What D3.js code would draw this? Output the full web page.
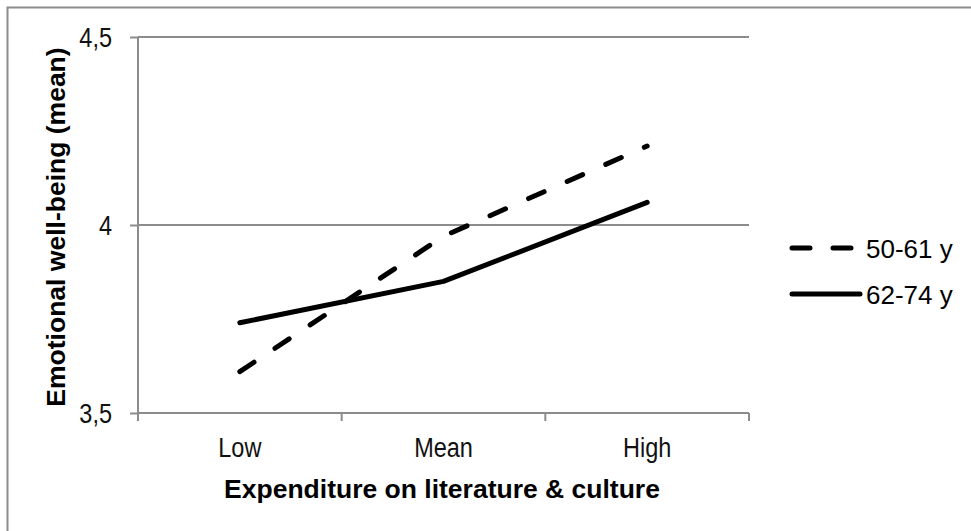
<!DOCTYPE html>
<html>
<head>
<meta charset="utf-8">
<script src="https://cdn.jsdelivr.net/npm/d3@7"></script>
<style>
  body { margin: 0; background: #fff; }
  svg { display: block; }
  .tick-label { font-family: "Liberation Sans", Arial, sans-serif; font-size: 27px; fill: #111; }
  .axis-title { font-family: "Liberation Sans", Arial, sans-serif; font-size: 26.5px; font-weight: bold; fill: #000; }
  .legend-label { font-family: "Liberation Sans", Arial, sans-serif; font-size: 26px; fill: #000; }
</style>
</head>
<body>
<div id="chart"></div>
<script>
const categories = ["Low", "Mean", "High"];
const yTicks = [3.5, 4, 4.5];
const seriesNames = ["50-61 y", "62-74 y"];
const values5061 = [3.61, 3.97, 4.21];
const values6274 = [3.74, 3.85, 4.06];

const W = 971, H = 531;
var margin = { top: 37, right: 222, bottom: 118, left: 138 };
var width = W - margin.left - margin.right;
var height = H - margin.top - margin.bottom;
var narrow = 0.87; // squeeze tick labels to look like a narrow face

var svg = d3.select("#chart").append("svg")
  .attr("width", W)
  .attr("height", H);

// outer chart border (cut off on right/bottom in the reference)
svg.append("rect")
  .attr("x", 7.5).attr("y", 7.5)
  .attr("width", W + 20).attr("height", H + 20)
  .attr("fill", "none")
  .attr("stroke", "#8c8c8c")
  .attr("stroke-width", 2);

var g = svg.append("g")
  .attr("transform", "translate(" + margin.left + "," + margin.top + ")");

var x = d3.scaleBand().domain(categories).range([0, width]);
var y = d3.scaleLinear().domain([3.5, 4.5]).range([height, 0]);

var grey = "#8c8c8c";

// gridlines
g.selectAll("line.grid")
  .data(yTicks.filter(function (d) { return d > 3.5; }))
  .enter().append("line")
  .attr("class", "grid")
  .attr("x1", 0).attr("x2", width)
  .attr("y1", function (d) { return y(d); })
  .attr("y2", function (d) { return y(d); })
  .attr("stroke", grey).attr("stroke-width", 2);

// y axis
var yAxis = g.append("g").call(
  d3.axisLeft(y).tickValues(yTicks).tickSize(8).tickPadding(0).tickFormat("")
);
yAxis.select(".domain").attr("stroke", grey).attr("stroke-width", 2)
  .attr("d", "M0," + height + "V0");
yAxis.selectAll(".tick line").attr("stroke", grey).attr("stroke-width", 2);
yAxis.selectAll(".tick").append("text")
  .attr("class", "tick-label")
  .attr("text-anchor", "end")
  .attr("transform", "translate(-26,9.5) scale(" + narrow + ",1)")
  .text(function (d) { return String(d).replace(".", ","); });

// x axis
var xAxis = g.append("g")
  .attr("transform", "translate(0," + height + ")")
  .call(d3.axisBottom(x).tickSize(0).tickFormat(""));
xAxis.select(".domain").attr("stroke", grey).attr("stroke-width", 2)
  .attr("d", "M0,0H" + width);
xAxis.selectAll(".tick").append("text")
  .attr("class", "tick-label")
  .attr("text-anchor", "middle")
  .attr("transform", "translate(0,44) scale(" + narrow + ",1)")
  .text(function (d) { return d; });

// x tick marks at category boundaries
var bounds = categories.map(function (c) { return x(c); }).concat([width]);
xAxis.selectAll("line.bound")
  .data(bounds)
  .enter().append("line")
  .attr("class", "bound")
  .attr("x1", function (d) { return d; })
  .attr("x2", function (d) { return d; })
  .attr("y1", 0).attr("y2", 8)
  .attr("stroke", grey).attr("stroke-width", 2);

// axis titles
svg.append("text")
  .attr("class", "axis-title")
  .attr("x", margin.left + width / 2 - 1.5)
  .attr("y", 498)
  .attr("text-anchor", "middle")
  .text("Expenditure on literature & culture");

svg.append("text")
  .attr("class", "axis-title")
  .attr("transform", "translate(65,227) rotate(-90)")
  .attr("text-anchor", "middle")
  .text("Emotional well-being (mean)");

// lines
var line = d3.line()
  .x(function (d, i) { return x(categories[i]) + x.bandwidth() / 2; })
  .y(function (d) { return y(d); });

var series = [
  { name: seriesNames[0], values: values5061, dash: "17,25.2" },
  { name: seriesNames[1], values: values6274, dash: null }
];

series.forEach(function (s) {
  g.append("path")
    .datum(s.values)
    .attr("d", line)
    .attr("fill", "none")
    .attr("stroke", "#000")
    .attr("stroke-width", 5)
    .attr("stroke-linecap", "round")
    .attr("stroke-linejoin", "round")
    .attr("stroke-dasharray", s.dash);
});

// legend
var legend = svg.append("g").attr("transform", "translate(792,248)");
series.forEach(function (s, i) {
  var row = legend.append("g").attr("transform", "translate(0," + i * 46 + ")");
  row.append("line")
    .attr("x1", 0).attr("x2", s.dash ? 62 : 68)
    .attr("y1", 0).attr("y2", 0)
    .attr("stroke", "#000")
    .attr("stroke-width", 5)
    .attr("stroke-linecap", "round")
    .attr("stroke-dasharray", s.dash ? "18,23" : null);
  row.append("text")
    .attr("class", "legend-label")
    .attr("x", 74)
    .attr("y", 9.5)
    .text(s.name);
});
</script>
</body>
</html>
